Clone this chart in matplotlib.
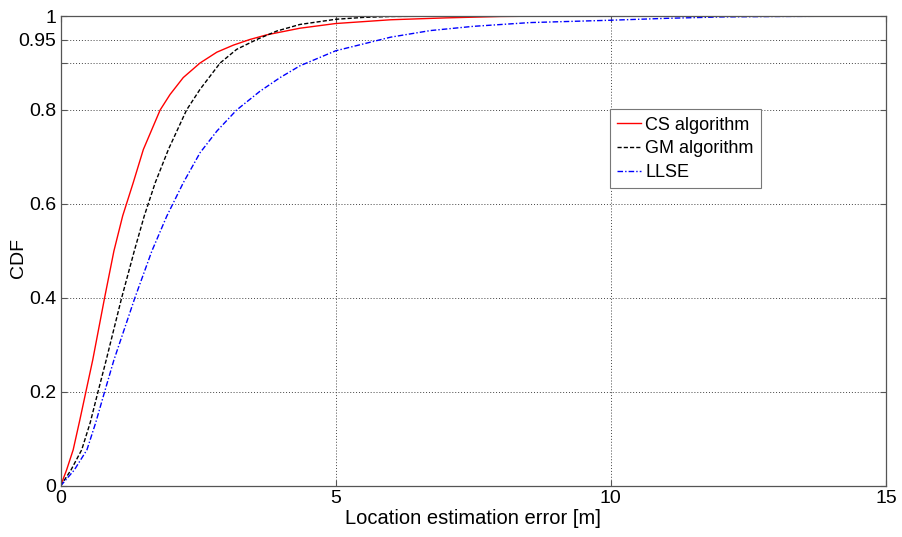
import matplotlib
matplotlib.use("Agg")
import matplotlib.pyplot as plt

plt.rcParams['font.family'] = ['Liberation Sans', 'DejaVu Sans']

# CDF samples (error in metres, cumulative probability)
cs_err = [0.0, 0.11, 0.23, 0.35, 0.46, 0.585, 0.80, 0.97, 1.13, 1.32, 1.505, 1.81, 1.99,
          2.23, 2.535, 2.84, 3.14, 3.44, 3.75, 4.35, 5.0, 6.0, 7.0, 8.0, 9.0, 15.0]
cs_cdf = [0.0, 0.034, 0.077, 0.14, 0.2, 0.268, 0.40, 0.50, 0.575, 0.645, 0.716, 0.80, 0.833,
          0.869, 0.90, 0.923, 0.938, 0.95, 0.96, 0.974, 0.984, 0.992, 0.996, 0.999, 1.0, 1.0]

gm_err = [0.0, 0.19, 0.385, 0.54, 0.68, 0.83, 1.11, 1.34, 1.52, 1.72, 1.96, 2.29, 2.535,
          2.90, 3.20, 3.565, 3.93, 4.35, 5.0, 5.5, 6.0, 7.0, 15.0]
gm_cdf = [0.0, 0.034, 0.077, 0.135, 0.2, 0.268, 0.40, 0.50, 0.574, 0.645, 0.716, 0.80, 0.844,
          0.90, 0.929, 0.95, 0.968, 0.982, 0.993, 0.997, 0.999, 1.0, 1.0]

llse_err = [0.0, 0.25, 0.48, 0.64, 0.80, 0.97, 1.35, 1.66, 1.93, 2.23, 2.535, 2.84, 3.20,
            3.625, 3.99, 4.35, 5.0, 6.0, 6.72, 7.5, 8.53, 10.0, 11.0, 12.0, 13.0, 15.0]
llse_cdf = [0.0, 0.034, 0.077, 0.135, 0.2, 0.268, 0.40, 0.50, 0.574, 0.645, 0.709, 0.755, 0.80,
            0.84, 0.869, 0.894, 0.926, 0.955, 0.969, 0.978, 0.986, 0.991, 0.995, 0.998, 0.999, 1.0]

x_ticks = [0, 5, 10, 15]
y_ticks = [0, 0.2, 0.4, 0.6, 0.8, 0.9, 0.95, 1.0]
y_tick_labels = ['0', '0.2', '0.4', '0.6', '0.8', '', '0.95', '1']

fig = plt.figure(figsize=(9.02, 5.37), dpi=100)
ax = fig.add_axes([0.0671, 0.095, 0.9152, 0.8752])

ax.plot(cs_err, cs_cdf, color='#ff0000', lw=1.0, ls='-', label='CS algorithm')
ax.plot(gm_err, gm_cdf, color='black', lw=1.0, ls=(0, (3, 1.5)), label='GM algorithm')
ax.plot(llse_err, llse_cdf, color='#0000ff', lw=1.0, ls=(0, (4, 1.5, 1, 1.5)), label='LLSE')

ax.set_xlim(0, 15)
ax.set_ylim(0, 1)
ax.set_xticks(x_ticks)
ax.set_xticklabels([str(t) for t in x_ticks])
ax.set_yticks(y_ticks)
ax.set_yticklabels(y_tick_labels)

ax.grid(True, color='#444444', ls=(0, (1, 2)), lw=0.7)
for s in ax.spines.values():
    s.set_color('#555555')
    s.set_linewidth(0.9)
ax.tick_params(direction='in', length=4, width=0.8, color='#555555',
               labelsize=14, right=True, top=True, pad=3)

ax.set_xlabel('Location estimation error [m]', fontsize=14.5, labelpad=1)
ax.set_ylabel('CDF', fontsize=14)
ax.yaxis.set_label_coords(-0.0406, 0.485)

leg = ax.legend(loc='upper left', bbox_to_anchor=(0.6657, 0.8015), borderaxespad=0,
                fontsize=13, handlelength=1.3, handletextpad=0.25, labelspacing=0.38,
                borderpad=0.4, fancybox=False, framealpha=1)
leg.get_frame().set_edgecolor('#777777')
leg.get_frame().set_linewidth(0.8)

fig.savefig('out.png', dpi=100)
